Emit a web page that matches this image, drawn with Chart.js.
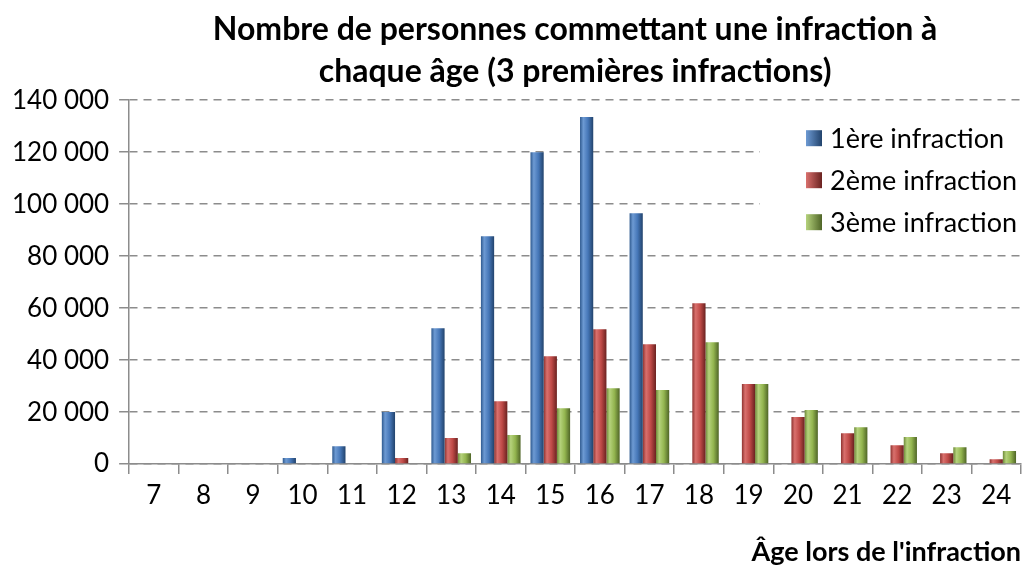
<!DOCTYPE html>
<html>
<head>
<meta charset="utf-8">
<script src="https://cdn.jsdelivr.net/npm/chart.js@4.4.0/dist/chart.umd.min.js"></script>
<style>
  html, body { margin: 0; padding: 0; background: #fff; }
  #wrap { width: 1024px; height: 567px; }
</style>
</head>
<body>
<div id="wrap"><canvas id="graph"></canvas></div>
<script>
// ages (categories)
const ages = ['7', '8', '9', '10', '11', '12', '13', '14', '15', '16', '17', '18', '19', '20', '21', '22', '23', '24'];
// values
const premiere = [0, 0, 0, 2300, 6900, 20000, 52300, 87700, 120000, 133500, 96500, 0, 0, 0, 0, 0, 0, 0];
const deuxieme = [0, 0, 0, 0, 0, 2300, 10000, 24200, 41500, 51900, 46100, 61900, 30800, 18100, 11900, 7300, 4200, 1900];
const troisieme = [0, 0, 0, 0, 0, 0, 4200, 11200, 21500, 29200, 28500, 46900, 30800, 20800, 14200, 10400, 6500, 5000];
const seriesNames = ['1ère infraction', '2ème infraction', '3ème infraction'];
const yTicks = [0, 20000, 40000, 60000, 80000, 100000, 120000, 140000];

// shades: [dark edge, light, base, darker]
const palette = [
    ['#2f5a8f', '#6d9ad3', '#4677b8', '#22436c'],
    ['#8e3330', '#d9706d', '#bf4a47', '#6a2220'],
    ['#6e8a38', '#b5d27c', '#93b54f', '#4f6527']
];

const FONT = 'Lato, "Open Sans", sans-serif';

function fmt(v) {
    return String(v).replace(/\B(?=(\d{3})+(?!\d))/g, ' ');
}

// horizontal gradient for each bar, like the cylinder look
function barFill(i) {
    return function(context) {
        const chart = context.chart;
        const x = chart.scales && chart.scales.x;
        const c = palette[i];
        if (!x || context.dataIndex === undefined) return c[2];
        const w = x.getPixelForValue(1) - x.getPixelForValue(0);
        const center = x.getPixelForValue(context.dataIndex);
        if (!isFinite(w) || !isFinite(center) || w <= 0) return c[2];
        const bw = w * 0.8 / 3;
        const left = center - w * 0.4 + i * bw;
        const g = chart.ctx.createLinearGradient(left, 0, left + bw, 0);
        g.addColorStop(0, c[0]);
        g.addColorStop(0.25, c[1]);
        g.addColorStop(0.6, c[2]);
        g.addColorStop(1, c[3]);
        return g;
    };
}

// legend drawn inside the plot, top right, on a white box
const insideLegend = {
    id: 'insideLegend',
    afterDraw(chart) {
        const ctx = chart.ctx;
        const area = chart.chartArea;
        const boxLeft = area.right - 261;
        ctx.save();
        ctx.fillStyle = '#fff';
        ctx.fillRect(boxLeft, area.top + 12, 261, 134);
        ctx.font = '27px ' + FONT;
        ctx.textBaseline = 'middle';
        for (let i = 0; i < 3; i++) {
            const y = area.top + 38 + i * 42;
            const c = palette[i];
            const g = ctx.createLinearGradient(boxLeft + 46, 0, boxLeft + 62, 0);
            g.addColorStop(0, c[1]);
            g.addColorStop(1, c[3]);
            ctx.fillStyle = g;
            ctx.fillRect(boxLeft + 46, y - 8, 16, 16);
            ctx.fillStyle = '#000';
            ctx.fillText(seriesNames[i], boxLeft + 70, y + 1);
        }
        ctx.restore();
    }
};

const config = {
    type: 'bar',
    data: {
        labels: ages,
        datasets: [
            { label: seriesNames[0], data: premiere, backgroundColor: barFill(0) },
            { label: seriesNames[1], data: deuxieme, backgroundColor: barFill(1) },
            { label: seriesNames[2], data: troisieme, backgroundColor: barFill(2) }
        ]
    },
    options: {
        responsive: false,
        animation: false,
        layout: { padding: { left: 2, right: 3, top: 0, bottom: 0 } },
        datasets: { bar: { categoryPercentage: 0.8, barPercentage: 1.0 } },
        plugins: {
            legend: { display: false },
            tooltip: { enabled: false },
            title: {
                display: true,
                fullSize: false,
                text: ['Nombre de personnes commettant une infraction à', 'chaque âge (3 premières infractions)'],
                color: '#000',
                font: { family: FONT, size: 32, weight: 'bold', lineHeight: 1.3 },
                padding: { top: 9, bottom: 8 }
            }
        },
        scales: {
            x: {
                grid: {
                    offset: true,
                    drawOnChartArea: false,
                    drawTicks: true,
                    tickLength: 10,
                    color: '#8c8c8c',
                    lineWidth: 1.5
                },
                border: { color: '#8c8c8c', width: 1.5 },
                ticks: { color: '#000', font: { family: FONT, size: 26 }, padding: 6 },
                title: {
                    display: true,
                    text: "Âge lors de l'infraction",
                    align: 'end',
                    color: '#000',
                    font: { family: FONT, size: 27, weight: 'bold', lineHeight: 1.1 },
                    padding: { top: 20, bottom: 0 }
                }
            },
            y: {
                min: 0,
                max: 140000,
                afterBuildTicks: axis => { axis.ticks = yTicks.map(v => ({ value: v })); },
                grid: {
                    color: '#8c8c8c',
                    lineWidth: 1.5,
                    tickLength: 10,
                    tickBorderDash: [],
                    tickColor: '#8c8c8c'
                },
                border: { color: '#8c8c8c', width: 1.5, dash: [8, 6] },
                ticks: {
                    color: '#000',
                    font: { family: FONT, size: 26 },
                    padding: 10,
                    callback: v => fmt(v)
                }
            }
        }
    },
    plugins: [insideLegend]
};

const canvas = document.getElementById('graph');
canvas.width = 1024;
canvas.height = 567;
var graph = new Chart(canvas.getContext('2d'), config);
</script>
</body>
</html>
